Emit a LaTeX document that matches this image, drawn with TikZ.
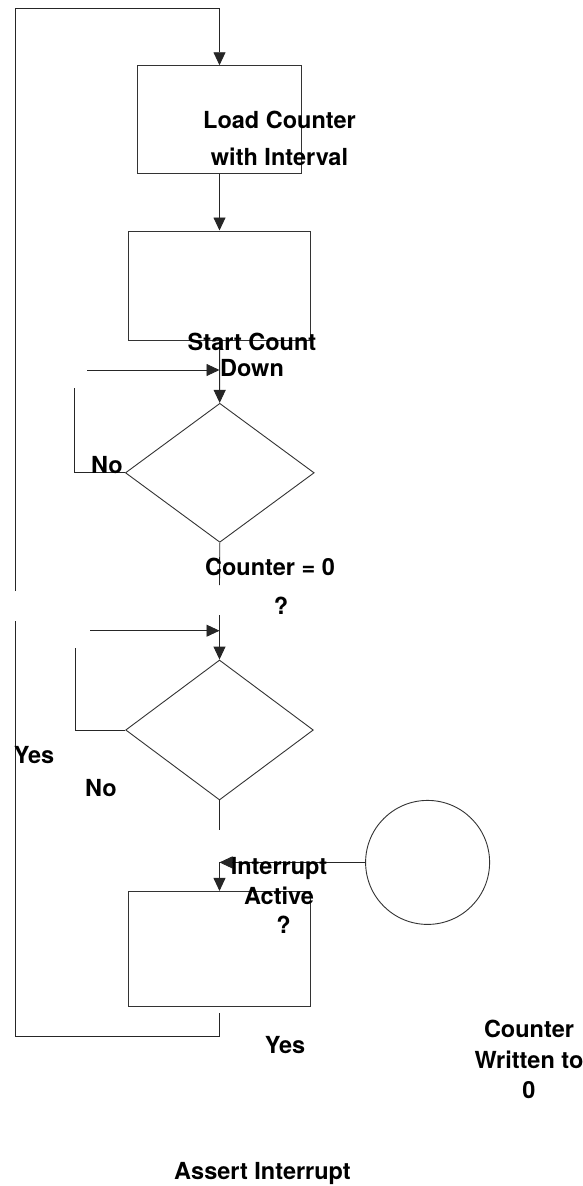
\documentclass[tikz,border=0pt]{standalone}
\usepackage{fontspec}
\setmainfont{TeX Gyre Heros}
\usetikzlibrary{arrows.meta, shapes.geometric}

\newcommand{\lblfont}[1]{\bfseries\fontsize{23.5}{#1}\selectfont}

\begin{document}
\begin{tikzpicture}[x=1pt, y=-1pt,
every node/.style={draw=black!80, line width=0.9pt, inner sep=0pt, fill=none},
procbox/.style={shape=rectangle},
decide/.style={shape=diamond},
link/.style={draw=black!85, line width=0.9pt},
flow/.style={link, -{Triangle[length=13pt, width=12pt]}}]
\useasboundingbox (0,0) rectangle (582,1186);

% Define nodes
\path (219.5,119.7)
node[procbox, minimum width=164pt, minimum height=108pt] (load) {}
(219.5,285.8) node[procbox, minimum width=182.4pt, minimum height=109.7pt] (count) {}
(219.8,472.8) node[decide, minimum width=188.8pt, minimum height=139pt] (zero) {}
(219.5,730) node[decide, minimum width=187.7pt, minimum height=140pt] (active) {}
(219.5,949) node[procbox, minimum width=182.4pt, minimum height=115.2pt] (assert) {}
(427.6,862.4) node[shape=circle, minimum size=124pt] (written) {}
;

% loose ends of the connectors
\path (15,8.7) coordinate (loopNW)
(15,591) coordinate (loopUp)
(15,621) coordinate (loopLow)
(219.5,1036) coordinate (loopSE)
(219.5,1013) coordinate (yesOut)
(87,370) coordinate (feedA) (219.5,370) coordinate (joinA)
(74,388) coordinate (noA)
(219.5,585) coordinate (zeroOut)
(219.5,615) coordinate (zeroIn)
(90,630.7) coordinate (feedB) (219.5,630.7) coordinate (joinB)
(75,648) coordinate (noB)
(219.5,830) coordinate (activeOut)
(219.5,862.4) coordinate (intIn)
;

\draw[flow] (loopUp) -- (loopNW) -| (load.north);
\draw[flow] (load) -- (count);
\draw[flow] (count) -- (zero);
\draw[flow] (feedA) -- (joinA);
\draw[link] (zero.west) -| (noA);
\draw[link] (zero.south) -- (zeroOut);
\draw[flow] (zeroIn) -- (active.north);
\draw[flow] (feedB) -- (joinB);
\draw[link] (active.west) -| (noB);
\draw[link] (active.south) -- (activeOut);
\draw[flow] (written.west) -- (intIn);
\draw[flow] (intIn) -- (assert.north);
\draw[link] (yesOut) -- (loopSE) -| (loopLow);

\path[every node/.style={draw=none, align=center, inner sep=0pt}, font=\lblfont{30}]
(279.5,138.5) node[font=\lblfont{37}] (loadtxt) {Load Counter\\with Interval}
(252,355) node[font=\lblfont{26.6}] (counttxt) {Start Count\\Down}
(107,465) node (noAtxt) {No}
(270,586.3) node[font=\lblfont{39.3}] (zerotxt) {Counter = 0\\\hspace*{22pt}?}
(34,755) node (yesAtxt) {Yes}
(101,788) node (noBtxt) {No}
(279,895.5) node[font=\lblfont{29.5}] (activetxt) {Interrupt\\Active\\\hspace*{9pt}?}
(285,1045) node (yesBtxt) {Yes}
(529,1059.5) node[font=\lblfont{30.5}] (writtentxt) {Counter\\Written to\\0}
(262.5,1173.5) node (asserttxt) {Assert Interrupt}
;

\end{tikzpicture}
\end{document}
